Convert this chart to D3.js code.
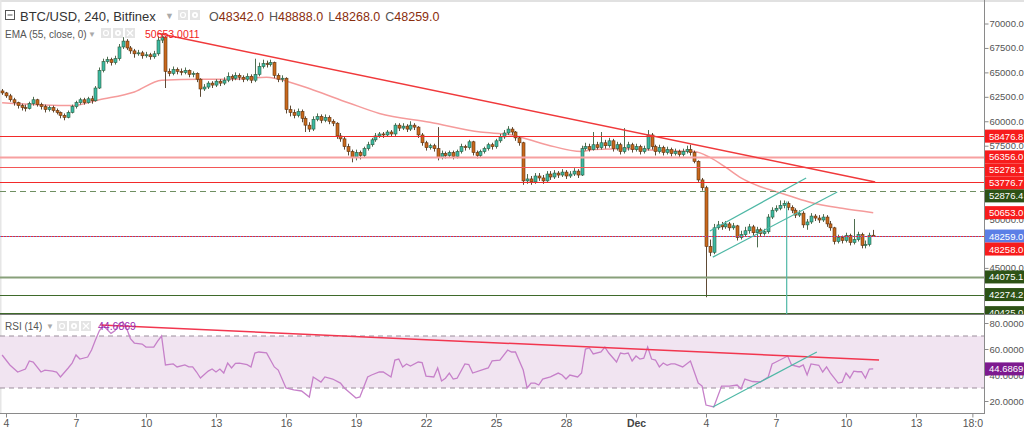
<!DOCTYPE html>
<html>
<head>
<meta charset="utf-8">
<script src="https://cdn.jsdelivr.net/npm/d3@7"></script>
<style>
  body { margin: 0; background: #fff; }
  svg { display: block; font-family: Arial, "Liberation Sans", sans-serif; }
</style>
</head>
<body>
<svg id="chart" width="1024" height="428"></svg>
<script>
// ---- data (prices in thousands of USD), one 4h candle each, first one Nov 3 2021 20:00 UTC
const closes = [
  62.9,62.6,62.2,61.9,61.6,61.4,61.3,61.8,62.2,61.7,
  61.5,61.2,61.4,61.1,60.9,60.6,60.4,60.9,61.5,61.9,
  62.2,61.9,62.3,62.1,63.4,65.2,66.1,66.3,66.0,66.4,
  67.6,68.2,67.5,67.2,66.9,67.0,66.7,66.8,66.6,66.9,
  68.3,68.6,65.1,64.9,65.3,65.1,65.0,65.2,64.8,64.9,
  64.3,63.3,63.5,63.9,63.7,64.1,63.9,64.2,64.6,64.4,
  64.7,64.5,64.3,64.6,64.2,64.8,65.6,65.9,65.8,66.0,
  64.7,64.3,64.4,61.2,60.9,60.6,61.0,60.3,59.6,59.2,
  60.2,60.5,60.1,60.4,60.0,59.8,58.5,58.2,57.4,56.9,
  56.3,56.8,56.5,57.2,57.6,58.1,58.5,58.7,58.6,58.9,
  58.7,59.6,59.3,59.5,59.2,59.6,59.4,58.6,57.8,57.3,
  57.5,57.2,56.3,56.7,56.5,56.8,56.4,56.9,57.4,57.3,
  57.9,56.8,56.5,56.9,57.2,57.6,57.4,58.0,58.4,58.8,
  59.2,58.9,58.3,57.8,53.9,54.1,53.8,54.4,54.2,53.9,
  54.6,54.3,54.7,54.5,54.8,54.4,54.6,54.9,54.5,57.2,
  57.4,57.1,57.6,57.3,57.8,57.5,58.0,57.2,57.6,56.9,
  57.3,57.6,57.1,57.4,56.9,57.2,58.6,57.4,56.9,57.3,
  56.8,57.1,56.7,56.9,56.6,56.9,57.1,56.8,55.9,54.0,
  53.2,47.2,46.6,49.1,49.4,49.2,49.5,49.1,49.3,48.1,
  48.4,48.8,49.2,48.6,48.9,48.5,48.7,50.2,50.9,51.1,
  51.4,51.6,51.2,50.9,50.4,50.6,49.4,49.7,50.3,50.1,
  49.9,50.2,49.5,49.1,47.7,48.1,47.8,48.3,47.6,47.9,
  48.4,47.3,47.4,48.342,48.259
];
const highs = [
  63.3,63.0,62.8,62.4,62.0,61.8,61.7,62.0,62.5,62.3,
  61.9,61.7,61.6,61.6,61.3,61.0,60.8,61.1,61.7,62.1,
  62.4,62.4,62.5,62.6,63.6,65.5,66.4,66.6,66.5,66.7,
  67.9,68.6,68.4,67.7,67.4,67.3,67.2,67.1,67.0,67.2,
  68.7,69.0,68.7,65.4,65.6,65.5,65.4,65.5,65.3,65.1,
  65.0,64.4,63.8,64.1,64.1,64.3,64.3,64.5,65.0,64.8,
  65.0,64.9,64.7,64.9,64.8,66.4,66.0,66.3,66.2,66.3,
  66.1,64.9,64.7,64.5,61.6,61.2,61.3,61.2,60.5,59.9,
  60.5,60.8,60.7,60.7,60.6,60.2,59.9,58.8,58.4,57.7,
  57.1,57.1,57.0,57.4,57.9,58.3,58.8,58.9,58.9,59.1,
  59.1,59.8,59.8,59.8,59.7,60.0,59.8,59.5,58.8,58.0,
  57.7,57.7,59.4,57.0,56.9,57.0,57.0,57.1,57.7,57.6,
  58.1,58.0,57.0,57.1,57.4,57.8,57.8,58.2,58.7,59.1,
  59.5,59.4,59.0,58.5,57.9,54.6,54.4,54.7,54.7,54.5,
  54.9,54.9,55.0,54.9,55.1,55.0,54.9,55.2,55.1,57.5,
  57.8,57.7,58.9,57.9,58.9,58.1,58.3,58.2,57.9,57.8,
  59.3,57.9,57.8,57.7,57.6,57.5,59.1,58.8,57.6,57.6,
  57.5,57.4,57.3,57.2,57.1,57.2,57.5,57.6,57.0,56.0,
  54.2,53.4,47.9,49.5,49.8,49.7,49.8,49.7,49.6,49.4,
  48.8,49.2,49.5,49.4,49.2,49.1,49.0,50.5,51.2,51.4,
  51.9,51.9,51.8,51.4,51.1,50.9,50.8,50.0,50.6,50.5,
  50.4,50.5,50.4,49.8,49.2,48.4,48.3,48.6,48.5,50.0,
  48.7,48.6,47.8,48.6,48.888
];
const lows = [
  62.7,62.4,62.0,61.6,61.3,61.1,61.0,61.2,61.6,61.5,
  61.2,60.9,61.0,60.9,60.7,60.3,60.1,60.3,60.8,61.3,
  61.7,61.7,61.8,61.8,62.0,63.3,65.0,65.9,65.7,65.8,
  66.2,67.4,67.3,66.9,66.5,66.7,66.4,66.5,66.3,66.4,
  66.7,68.0,63.4,64.6,64.7,64.8,64.7,64.8,64.5,64.5,
  64.0,62.5,63.1,63.3,63.4,63.5,63.6,63.7,64.0,64.1,
  64.2,64.2,64.0,64.1,63.9,64.0,64.6,65.4,65.5,65.6,
  64.4,64.0,64.0,60.8,60.5,60.3,60.4,59.9,58.9,58.9,
  59.0,60.0,59.8,59.9,59.7,59.5,58.2,57.9,57.1,56.5,
  55.8,56.0,56.1,56.3,57.0,57.4,57.9,58.3,58.3,58.4,
  58.4,58.5,59.0,59.1,58.9,59.0,59.1,58.3,57.5,57.0,
  57.1,56.9,56.0,56.1,56.2,56.3,56.1,56.2,56.7,57.0,
  57.1,56.5,56.2,56.3,56.7,57.0,57.1,57.2,57.8,58.2,
  58.6,58.6,58.0,57.5,53.5,53.6,53.5,53.6,53.9,53.6,
  53.8,54.0,54.1,54.2,54.3,54.1,54.2,54.4,54.2,54.4,
  57.0,56.9,57.0,57.1,57.1,57.2,57.3,56.9,57.0,56.6,
  56.7,57.0,56.8,56.9,56.6,56.7,57.0,57.1,56.5,56.7,
  56.5,56.6,56.4,56.5,56.3,56.4,56.7,56.5,55.7,53.8,
  52.9,42.0,46.2,46.4,48.9,48.9,49.0,48.8,48.9,47.8,
  47.9,48.2,48.5,48.3,47.1,48.2,48.3,48.5,50.0,50.7,
  50.9,51.1,50.9,50.6,50.1,50.2,49.1,48.9,49.5,49.8,
  49.6,49.7,49.2,48.8,47.4,47.5,47.5,47.6,47.3,47.4,
  47.7,47.0,47.0,47.2,48.268
];
const firstOpen = 63.1;

// EMA(55): [candle index, value in thousands]
const emaPoints = [
  [0,61.9],[18,61.6],[25,62.2],[34,63.0],[41,64.2],[51,64.3],[59,64.3],[68,64.5],
  [74,64.0],[80,63.2],[89,61.9],[97,60.8],[110,59.9],[123,58.9],[131,58.6],[140,57.6],
  [149,56.9],[152,57.1],[161,57.2],[169,57.0],[178,56.9],[182,56.3],[186,55.3],[190,54.2],
  [195,53.3],[199,52.8],[203,52.3],[208,51.7],[216,51.1],[224,50.653]
];

// RSI(14): [candle index, value]
const rsiPoints = [
  [0,55.4],[2,47.7],[4,42.3],[6,44.6],[7,50.8],[8,50],[10,42.3],[11,43.8],[13,43],[14,42.3],
  [15,38.5],[17,45.4],[18,49.2],[19,55.4],[20,52.3],[22,53.8],[23,59.2],[24,66.9],[25,74],[26,78],
  [27,75],[28,72],[29,74],[30,79],[31,81],[32,76],[33,68],[34,64.6],[36,63.8],[37,61.5],
  [39,61.5],[40,66],[41,70],[42,47.7],[44,48.5],[45,46.2],[47,47.7],[48,46.2],[49,46.2],[50,42.3],
  [51,37.7],[53,43],[54,44.6],[55,42.3],[56,44.6],[57,41.5],[58,49.2],[59,45.4],[60,49],[61,49.2],
  [63,48],[64,46.2],[65,56.9],[66,57.7],[68,57],[70,46.2],[71,43.8],[73,30],[75,28.5],[77,27.7],
  [79,23.1],[80,38.5],[82,34.6],[83,38.5],[85,36.9],[87,33.8],[88,30],[91,22.3],[92,23.1],[94,38.5],
  [95,40],[97,42.3],[98,42.3],[100,38.5],[101,51.5],[102,52.3],[103,46.2],[104,48.5],[105,46.9],[107,50],
  [108,49.5],[109,39.2],[111,38.5],[112,45.4],[113,35.4],[114,37.5],[115,41.5],[116,36.9],[117,37.5],[119,48.5],
  [120,48],[121,41.5],[124,44.6],[125,45.4],[126,50.8],[128,51.5],[130,59.2],[131,57.7],[132,57.7],[134,43.8],
  [135,30],[136,33.8],[137,33.8],[138,32.3],[139,36.9],[141,38.5],[143,41.5],[144,40],[145,36.9],[146,40],
  [148,38.5],[149,41.5],[150,60],[151,60.8],[152,56.2],[154,57.7],[155,61.5],[156,56.9],[158,50],[159,56.9],
  [160,56.2],[161,56.9],[162,50.8],[163,54.6],[164,52.3],[165,53],[166,61.5],[167,52.3],[168,51.5],[169,46.2],
  [170,49.2],[171,47.5],[172,48.5],[173,48.5],[175,46.2],[177,50.8],[179,33.8],[180,31.5],[181,16.9],[183,15.4],
  [185,31.5],[187,31.5],[189,32.3],[190,29.2],[191,36.9],[193,35],[195,34.6],[197,38.5],[198,48.5],[199,50],
  [202,54.6],[203,47.7],[205,46.2],[206,47.7],[207,40],[208,48.5],[210,47.5],[211,42.3],[212,46.2],[213,41.5],
  [215,33.8],[216,34.5],[217,41.5],[218,37.7],[219,43],[220,42.5],[221,42.5],[222,37.7],[223,44.6],[224,44.6869]
];

// horizontal levels drawn on the chart
const redLevels = [58476.8, 56356.0, 55278.1, 53776.7];
const dashedLevel = 52876.4;
const greenLevels = [44075.1, 42274.2, 40425.0];
const redLastLevel = 48258.0;
const emaLast = 50653.0011;

// drawn trend lines [time, value]
const trendMain = [[Date.UTC(2021,10,10,12), 69000], [Date.UTC(2021,11,11,6), 53780]];
const channelUpper = [[Date.UTC(2021,11,4,4), 48770], [Date.UTC(2021,11,8,7), 54200]];
const channelLower = [[Date.UTC(2021,11,4,7), 46100], [Date.UTC(2021,11,9,15), 52760]];
const vertLine = [[Date.UTC(2021,11,7,11), 51800], [Date.UTC(2021,11,7,11), 39000]];
const rsiTrendRed = [[Date.UTC(2021,10,8,1), 78.5], [Date.UTC(2021,11,11,10), 51.5]];
const rsiTrendTeal = [[Date.UTC(2021,11,4,7), 15.4], [Date.UTC(2021,11,8,18), 57.7]];

// axis ticks (the ones hidden behind value labels on the platform are left out)
const priceTicks = [45000, 50000, 57500, 60000, 62500, 65000, 67500, 70000];
const rsiTicks = [20, 40, 60, 80];
const xTickDates = [
  Date.UTC(2021,10,4), Date.UTC(2021,10,7), Date.UTC(2021,10,10), Date.UTC(2021,10,13),
  Date.UTC(2021,10,16), Date.UTC(2021,10,19), Date.UTC(2021,10,22), Date.UTC(2021,10,25),
  Date.UTC(2021,10,28), Date.UTC(2021,11,1), Date.UTC(2021,11,4), Date.UTC(2021,11,7),
  Date.UTC(2021,11,10), Date.UTC(2021,11,13), Date.UTC(2021,11,15,10)
];
const xTickLabels = ['4','7','10','13','16','19','22','25','28','Dec','4','7','10','13','18:0'];

// ---- layout
const plotRight = 984;
const mainTop = 0, mainBottom = 314;
const rsiTop = 314, rsiBottom = 413;
const svg = d3.select('#chart');

const t0 = Date.UTC(2021, 10, 3, 20);
const step = 4 * 3600 * 1000;
const candles = closes.map((c, i) => ({
  t: new Date(t0 + i * step),
  o: (i === 0 ? firstOpen : closes[i - 1]) * 1000,
  h: highs[i] * 1000,
  l: lows[i] * 1000,
  c: c * 1000
}));

const x = d3.scaleUtc()
  .domain([new Date(Date.UTC(2021,10,4)), new Date(Date.UTC(2021,11,13))])
  .range([6, 916]);
const y = d3.scaleLinear().domain([45000, 70000]).range([267.9, 23.5]);
const yR = d3.scaleLinear().domain([30, 70]).range([388, 336]);
const xi = i => x(new Date(t0 + i * step));

// clip paths
const defs = svg.append('defs');
defs.append('clipPath').attr('id', 'clipMain')
  .append('rect').attr('x', 0).attr('y', mainTop).attr('width', plotRight).attr('height', mainBottom - mainTop);
defs.append('clipPath').attr('id', 'clipRsi')
  .append('rect').attr('x', 0).attr('y', rsiTop).attr('width', plotRight).attr('height', rsiBottom - rsiTop);
defs.append('clipPath').attr('id', 'clipMainLabels')
  .append('rect').attr('x', plotRight).attr('y', mainTop).attr('width', 40).attr('height', mainBottom - mainTop);

// light frame
svg.append('rect').attr('x', 0).attr('y', 0).attr('width', 1024).attr('height', 2).attr('fill', '#e1e1e1');
svg.append('rect').attr('x', 0).attr('y', 0).attr('width', 1.5).attr('height', rsiBottom).attr('fill', '#e6e6e6');

// ---- RSI pane
const rsiG = svg.append('g').attr('clip-path', 'url(#clipRsi)');
rsiG.append('rect')
  .attr('x', 0).attr('width', plotRight)
  .attr('y', yR(70)).attr('height', yR(30) - yR(70))
  .attr('fill', '#f1e4f1');
[70, 30].forEach(v => {
  rsiG.append('line')
    .attr('x1', 0).attr('x2', plotRight)
    .attr('y1', yR(v)).attr('y2', yR(v))
    .attr('stroke', '#9b8d9b').attr('stroke-dasharray', '5,4');
});
rsiG.append('path')
  .datum(rsiPoints)
  .attr('d', d3.line().x(d => xi(d[0])).y(d => yR(d[1])))
  .attr('fill', 'none').attr('stroke', '#c680c9').attr('stroke-width', 1.3);
rsiG.append('path')
  .datum(rsiTrendRed)
  .attr('d', d3.line().x(d => x(new Date(d[0]))).y(d => yR(d[1])))
  .attr('stroke', '#f2364f').attr('stroke-width', 1.5).attr('fill', 'none');
rsiG.append('path')
  .datum(rsiTrendTeal)
  .attr('d', d3.line().x(d => x(new Date(d[0]))).y(d => yR(d[1])))
  .attr('stroke', '#4fb8a6').attr('stroke-width', 1.2).attr('fill', 'none');

// ---- main pane
const mainG = svg.append('g').attr('clip-path', 'url(#clipMain)');

// EMA 55
mainG.append('path')
  .datum(emaPoints)
  .attr('d', d3.line().x(d => xi(d[0])).y(d => y(d[1] * 1000)).curve(d3.curveMonotoneX))
  .attr('fill', 'none').attr('stroke', '#f59b9b').attr('stroke-width', 1.5);

// candles
const upFill = '#3bb9a3', upLine = '#2f5b3c';
const dnFill = '#c9681c', dnLine = '#5b3413';
const cg = mainG.append('g');
cg.selectAll('line')
  .data(candles)
  .join('line')
  .attr('x1', d => Math.round(x(d.t)) + 0.5)
  .attr('x2', d => Math.round(x(d.t)) + 0.5)
  .attr('y1', d => y(d.h))
  .attr('y2', d => y(d.l))
  .attr('stroke', d => d.c >= d.o ? '#4f6e50' : '#5e4a35')
  .attr('stroke-width', 1);
cg.selectAll('rect')
  .data(candles)
  .join('rect')
  .attr('x', d => Math.round(x(d.t)) - 1)
  .attr('width', 3)
  .attr('y', d => y(Math.max(d.o, d.c)))
  .attr('height', d => Math.max(1, Math.abs(y(d.o) - y(d.c))))
  .attr('fill', d => d.c >= d.o ? upFill : dnFill)
  .attr('stroke', d => d.c >= d.o ? upLine : dnLine)
  .attr('stroke-width', 0.6);

// horizontal levels
const hLine = (v, color, width, dash) => {
  const l = mainG.append('line')
    .attr('x1', 0).attr('x2', plotRight)
    .attr('y1', Math.round(y(v)) + 0.5).attr('y2', Math.round(y(v)) + 0.5)
    .attr('stroke', color).attr('stroke-width', width);
  if (dash) l.attr('stroke-dasharray', dash);
};
const redStyles = [['#f22a2a', 1], ['#f7a0a0', 2], ['#f35656', 1.2], ['#f22a2a', 1.2]];
redLevels.forEach((v, i) => hLine(v, redStyles[i][0], redStyles[i][1]));
hLine(dashedLevel, '#6f8f62', 1.2, '6,4');
hLine(greenLevels[0], '#88a07a', 2);
hLine(greenLevels[1], '#3f6a2b', 1);
hLine(greenLevels[2], '#3f6a2b', 1);
hLine(redLastLevel, '#e0303a', 1);
hLine(closes[closes.length - 1] * 1000, '#5d7fe5', 1, '1,2');

// trend lines
const tLine = (pts, color, width) => {
  mainG.append('path')
    .datum(pts)
    .attr('d', d3.line().x(d => x(new Date(d[0]))).y(d => y(d[1])))
    .attr('fill', 'none').attr('stroke', color).attr('stroke-width', width);
};
tLine(trendMain, '#f0393b', 1.5);
tLine(channelUpper, '#4fb8a6', 1.2);
tLine(channelLower, '#4fb8a6', 1.2);
tLine(vertLine, '#4fb8a6', 1.2);

// ---- pane separator & axes
svg.append('line')
  .attr('x1', 0).attr('x2', 1024).attr('y1', mainBottom + 0.5).attr('y2', mainBottom + 0.5)
  .attr('stroke', '#7b7b7b');
svg.append('line')
  .attr('x1', plotRight + 0.5).attr('x2', plotRight + 0.5).attr('y1', 0).attr('y2', rsiBottom)
  .attr('stroke', '#8a8a8a');
svg.append('line')
  .attr('x1', 0).attr('x2', plotRight + 1).attr('y1', rsiBottom + 0.5).attr('y2', rsiBottom + 0.5)
  .attr('stroke', '#8a8a8a');

const styleAxis = (g, size) => {
  g.attr('font-family', null).attr('font-size', size);
  g.select('.domain').remove();
  g.selectAll('line').attr('stroke', '#8a8a8a');
  g.selectAll('text').attr('fill', '#555');
};

svg.append('g')
  .attr('clip-path', 'url(#clipMainLabels)')
  .append('g')
  .attr('transform', `translate(${plotRight + 0.5},0)`)
  .call(d3.axisRight(y).tickValues(priceTicks).tickFormat(d3.format('.1f')).tickSize(4).tickPadding(1))
  .call(styleAxis, 9.5);

svg.append('g')
  .attr('transform', `translate(${plotRight + 0.5},0)`)
  .call(d3.axisRight(yR).tickValues(rsiTicks).tickFormat(d3.format('.4f')).tickSize(4).tickPadding(1))
  .call(styleAxis, 9.5);

svg.append('g')
  .attr('transform', `translate(0,${rsiBottom + 0.5})`)
  .call(d3.axisBottom(x)
    .tickValues(xTickDates.map(d => new Date(d)))
    .tickFormat((d, i) => xTickLabels[i])
    .tickSize(4).tickPadding(2))
  .call(styleAxis, 10.5)
  .call(g => g.selectAll('text').filter((d, i) => xTickLabels[i] === 'Dec').attr('font-weight', 'bold').attr('fill', '#444'));

// ---- right side value labels (pushed apart like the platform does)
const red = '#f71c1c', dkGreen = '#2d5216', blue = '#5b7fe6';
const fmt1 = d3.format('.1f');
const labels = [
  ...redLevels.map(v => ({ v, color: red })),
  { v: dashedLevel, color: dkGreen },
  { v: emaPoints[emaPoints.length - 1][1] * 1000, color: red },
  { v: closes[closes.length - 1] * 1000, color: blue },
  { v: redLastLevel, color: red },
  ...greenLevels.map(v => ({ v, color: dkGreen }))
].map(d => ({ ...d, ly: y(d.v) }))
 .sort((a, b) => a.ly - b.ly);
for (let i = 1; i < labels.length; i++) {
  if (labels[i].ly < labels[i - 1].ly + 13) labels[i].ly = labels[i - 1].ly + 13;
}
const lg = svg.append('g').attr('clip-path', 'url(#clipMainLabels)');
labels.forEach(d => {
  lg.append('rect')
    .attr('x', plotRight + 1).attr('y', d.ly - 6.5)
    .attr('width', 1024 - plotRight - 1).attr('height', 13)
    .attr('fill', d.color);
  lg.append('text')
    .attr('x', plotRight + 5).attr('y', d.ly + 3.5)
    .attr('font-size', 9.5).attr('fill', '#fff')
    .text(fmt1(d.v));
});

// RSI value label
const rsiLast = rsiPoints[rsiPoints.length - 1][1];
svg.append('rect')
  .attr('x', plotRight + 1).attr('y', yR(rsiLast) - 6.5)
  .attr('width', 1024 - plotRight - 1).attr('height', 13)
  .attr('fill', '#7d1a8f');
svg.append('text')
  .attr('x', plotRight + 5).attr('y', yR(rsiLast) + 3.5)
  .attr('font-size', 9.5).attr('fill', '#fff')
  .text(d3.format('.4f')(rsiLast));

// ---- legend / header texts
const icon = (g, x0, y0, sym) => {
  g.append('rect').attr('x', x0).attr('y', y0).attr('width', 10).attr('height', 10)
    .attr('fill', '#e4e4e4');
  if (sym === 'eye') {
    g.append('circle').attr('cx', x0 + 5).attr('cy', y0 + 5).attr('r', 2.5)
      .attr('fill', 'none').attr('stroke', '#fff').attr('stroke-width', 1.2);
  } else if (sym === 'gear') {
    g.append('circle').attr('cx', x0 + 5).attr('cy', y0 + 5).attr('r', 3)
      .attr('fill', '#fff');
    g.append('circle').attr('cx', x0 + 5).attr('cy', y0 + 5).attr('r', 1.2)
      .attr('fill', '#e4e4e4');
  } else {
    g.append('path').attr('d', `M${x0 + 2},${y0 + 2}L${x0 + 8},${y0 + 8}M${x0 + 8},${y0 + 2}L${x0 + 2},${y0 + 8}`)
      .attr('stroke', '#fff').attr('stroke-width', 1.3);
  }
};

const head = svg.append('g');
// collapse box
head.append('rect').attr('x', 5.5).attr('y', 10.5).attr('width', 9).attr('height', 9)
  .attr('fill', 'none').attr('stroke', '#555');
head.append('line').attr('x1', 7.5).attr('x2', 12.5).attr('y1', 15).attr('y2', 15).attr('stroke', '#555');
head.append('text').attr('x', 20).attr('y', 20.5).attr('font-size', 13).attr('fill', '#333')
  .text('BTC/USD, 240, Bitfinex');
head.append('text').attr('x', 165).attr('y', 19).attr('font-size', 9).attr('fill', '#aaa').text('▼');
icon(head, 178, 10, 'eye');
icon(head, 190, 10, 'gear');

const last = candles[candles.length - 1];
const ohlc = head.append('text').attr('x', 209).attr('y', 20.5).attr('font-size', 12.5);
[['O', last.o], ['H', last.h], ['L', last.l], ['C', last.c]].forEach(([k, v], i) => {
  ohlc.append('tspan').attr('fill', '#555').attr('dx', i ? 5 : 0).text(k);
  ohlc.append('tspan').attr('fill', '#8a2e0e').text(fmt1(v));
});

head.append('text').attr('x', 5).attr('y', 37.5).attr('font-size', 10).attr('fill', '#555')
  .text('EMA (55, close, 0)');
head.append('text').attr('x', 88).attr('y', 36.5).attr('font-size', 8).attr('fill', '#aaa').text('▼');
icon(head, 101, 28, 'eye');
icon(head, 113, 28, 'gear');
icon(head, 125, 28, 'x');
head.append('text').attr('x', 145).attr('y', 37.5).attr('font-size', 10.5).attr('fill', '#f21c1c')
  .text(d3.format('.4f')(emaLast));

head.append('text').attr('x', 5).attr('y', rsiTop + 16).attr('font-size', 10).attr('fill', '#555')
  .text('RSI (14)');
head.append('text').attr('x', 46).attr('y', rsiTop + 15).attr('font-size', 8).attr('fill', '#aaa').text('▼');
icon(head, 57, rsiTop + 7, 'eye');
icon(head, 69, rsiTop + 7, 'gear');
icon(head, 81, rsiTop + 7, 'x');
head.append('text').attr('x', 98).attr('y', rsiTop + 16).attr('font-size', 10.5).attr('fill', '#9b2bb0')
  .text(d3.format('.4f')(rsiLast));
</script>
</body>
</html>
